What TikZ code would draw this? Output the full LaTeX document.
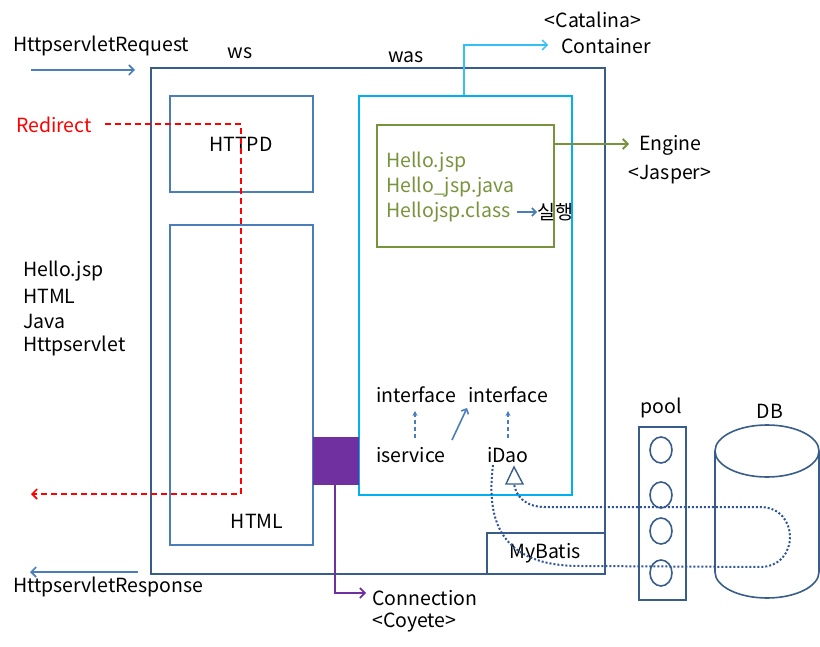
\documentclass[tikz,border=0pt]{standalone}
\usepackage{fontspec}
\setmainfont{Noto Sans CJK KR}
\usetikzlibrary{arrows.meta,shapes.geometric}
\definecolor{navyline}{HTML}{385D8A}
\definecolor{midblue}{HTML}{4A7EBB}
\definecolor{cyanline}{HTML}{00B0F0}
\definecolor{greenline}{HTML}{77933C}
\definecolor{purp}{HTML}{7030A0}
\definecolor{dotblue}{HTML}{2F5597}
\begin{document}
\begin{tikzpicture}[x=1pt,y=-1pt,
  font=\fontsize{19.5}{22}\selectfont,
  box/.style={draw, line width=1.6pt, inner sep=0pt, anchor=north west},
  lbl/.style={inner sep=0pt, anchor=west},
  tip/.style={-{Straight Barb[length=5pt,width=10pt]}},
  bluearr/.style={tip, draw=midblue, line width=1.6pt},
]
\useasboundingbox (0,0) rectangle (820,647);
% boxes
\node[box, draw=navyline, minimum width=454pt, minimum height=506pt] (ws) at (150,67) {};
\node[box, draw=midblue, minimum width=143pt, minimum height=96pt] (httpd) at (169,95) {};
\node[box, draw=midblue, minimum width=143pt, minimum height=320pt] (html) at (169,224) {};
\node[box, draw=cyanline, minimum width=213pt, minimum height=399pt] (was) at (358,95) {};
\node[box, draw=greenline, minimum width=177pt, minimum height=122pt] (eng) at (376,124) {};
\node[box, draw=purp, fill=purp, minimum width=44pt, minimum height=46pt] (conn) at (313,437) {};
\node[box, draw=navyline, minimum width=118pt, minimum height=41pt] (mybatis) at (486,532) {};
\node[box, draw=navyline, minimum width=47pt, minimum height=173pt] (pool) at (638,426) {};
\foreach \i/\y in {1/450,2/495,3/531,4/573}
  \node[draw=navyline, line width=1.6pt, ellipse, minimum width=22pt, minimum height=26pt, inner sep=0pt] (c\i) at (661,\y) {};
% DB cylinder
\draw[navyline, line width=1.6pt] (715,451) -- (715,572) arc[start angle=180, end angle=360, x radius=52pt, y radius=26pt] -- (819,451);
\draw[navyline, line width=1.6pt] (767,451) ellipse [x radius=52pt, y radius=26pt];
\node (db) at (770,411) {DB};
\node (pooll) at (661,408) {pool};
% texts
\node[lbl] (req) at (13,46) {HttpservletRequest};
\node[lbl] (resp) at (13,587) {HttpservletResponse};
\node (wsl) at (240,53) {ws};
\node (wasl) at (406,57) {was};
\node (httpdl) at (241,144) {HTTPD};
\node (htmll) at (257,521) {HTML};
\node[lbl, red] (redir) at (16,125) {Redirect};
\node[lbl] (l1) at (23,271) {Hello.jsp};
\node[lbl] (l2) at (23,296) {HTML};
\node[lbl] (l3) at (23,321) {Java};
\node[lbl] (l4) at (23,346) {Httpservlet};
\node (cat) at (593,20) {<Catalina>};
\node[lbl] (cont) at (561,46) {Container};
\node[lbl] (engl) at (639,145) {Engine};
\node (jas) at (670,175) {<Jasper>};
\node[lbl, greenline] (g1) at (386,162) {Hello.jsp};
\node[lbl, greenline] (g2) at (386,187) {Hello\_jsp.java};
\node[lbl, greenline] (g3) at (386,212) {Hellojsp.class};
\node[lbl] (run) at (537,212) {실행};
\node[lbl] (if1) at (376,395) {interface};
\node[lbl] (if2) at (468,395) {interface};
\node[lbl] (isv) at (376,455) {iservice};
\node[lbl] (idao) at (487,455) {iDao};
\node[lbl] (connl) at (372,598) {Connection};
\node[lbl] (coy) at (372,623) {<Coyete>};
\node (mybl) at (545,553) {MyBatis};
% triangle
\draw[navyline, line width=1.4pt] (506,484) -- (514,467) -- (523,484) -- cycle;
\coordinate (tri) at (514,484);
% connectors
\coordinate (reqA) at (31,70);
\coordinate (reqB) at (135,70);
\draw[bluearr] (reqA) -- (reqB);
\coordinate (respA) at (138,572);
\coordinate (respB) at (30,572);
\draw[bluearr] (respA) -- (respB);
\coordinate (rd1) at (241,124);
\coordinate (rd2) at (241,494);
\coordinate (rdE) at (31,494);
\draw[red, line width=1.6pt, dash pattern=on 6pt off 4pt, tip] (105,124) -- (rd1) -- (rd2) -- (rdE);
\coordinate (ct1) at (464,45);
\coordinate (ctE) at (548,45);
\draw[cyanline!80!white, line width=1.4pt, tip] (was.north -| ct1) -- (ct1) -- (ctE);
\coordinate (engE) at (629,144);
\draw[greenline, line width=1.8pt, tip] (eng.east |- engE) -- (engE);
\coordinate (runA) at (517,212);
\draw[bluearr, -{Straight Barb[length=4pt,width=8pt]}] (runA) -- (run.west);
\coordinate (cnB) at (335,593);
\coordinate (cnE) at (366,593);
\draw[purp, line width=1.6pt, tip] (conn.south -| cnB) -- (cnB) -- (cnE);
\draw[midblue, line width=1.4pt, dash pattern=on 4pt off 3pt, -{Stealth[length=5pt,width=5pt]}] (415,438) -- (415,411);
\draw[midblue, line width=1.4pt, dash pattern=on 4pt off 3pt, -{Stealth[length=5pt,width=5pt]}] (508,438) -- (508,411);
\draw[midblue, line width=1.6pt, -{Straight Barb[length=4pt,width=8pt]}] (452,440) -- (467,408);
% dotted loop
\coordinate (dStart) at (493,465);
\draw[dotblue, line width=2pt, dash pattern=on 2pt off 2pt] (dStart) .. controls (486,520) and (500,566) .. (580,566) -- (760,567) .. controls (800,567) and (800,507) .. (760,507) -- (545,507) .. controls (525,507) and (516,496) .. (tri);
\end{tikzpicture}
\end{document}
